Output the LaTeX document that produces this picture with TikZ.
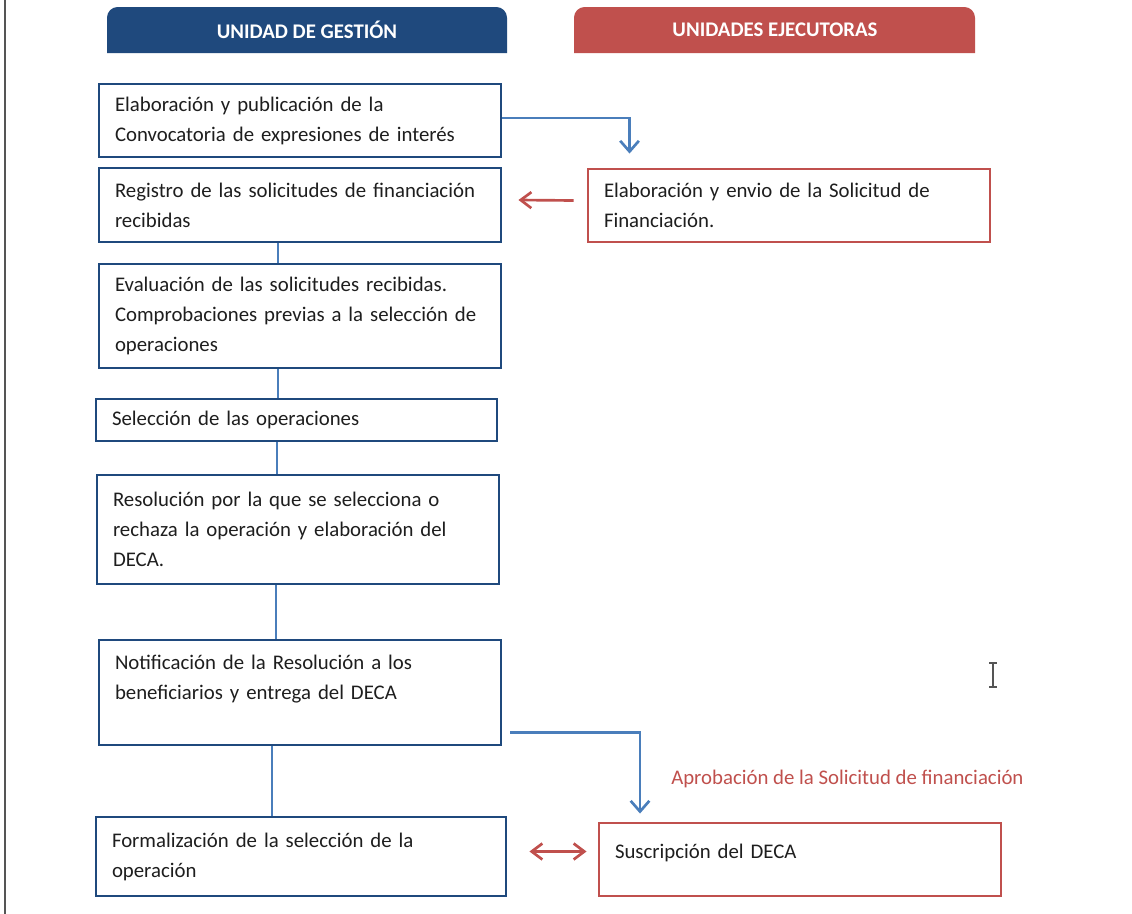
\documentclass[tikz,border=0pt]{standalone}
\usepackage{fontspec}
\setmainfont{Carlito}
\usetikzlibrary{arrows.meta}
\definecolor{hdblue}{HTML}{1F497D}
\definecolor{hdred}{HTML}{C0504D}
\definecolor{boxblue}{HTML}{1F497D}
\definecolor{linkblue}{HTML}{4A7EBB}
\definecolor{ink}{HTML}{1E1E1E}
\definecolor{edge}{HTML}{555555}
\begin{document}
\begin{tikzpicture}[x=0.75pt,y=-0.75pt,
  bodyfont/.style={font=\fontsize{15.6}{22.5}\selectfont},
  stepbox/.style={draw=boxblue, line width=2.2pt, bodyfont, text=ink,
    align=left, inner xsep=12pt, inner ysep=3pt, text width=277.5pt},
  execbox/.style={stepbox, draw=hdred},
  headtxt/.style={text=white, font=\fontsize{15.6}{18}\selectfont\bfseries},
  link/.style={draw=linkblue, line width=2pt},
  bluetip/.style={link, -{Straight Barb[length=8pt,width=14pt]}},
  redtip/.style={draw=hdred, line width=2pt, -{Straight Barb[length=8pt,width=12pt]}},
  redboth/.style={draw=hdred, line width=2pt, {Straight Barb[length=8pt,width=12pt]}-{Straight Barb[length=8pt,width=12pt]}}
]
\useasboundingbox (0,0) rectangle (1132,914);
\fill[white] (0,0) rectangle (1132,914);
% page edge on the left
\draw[edge, line width=1.5pt] (5,0) -- (5,914);

% column headers
\fill[hdblue] (107,53) [rounded corners=8] -- (107,7) -- (507,7) [sharp corners] -- (507,53) -- cycle;
\node[headtxt] (hgest) at (307,30) {UNIDAD DE GESTIÓN};
\fill[hdred] (574,53) [rounded corners=8] -- (574,7) -- (975,7) [sharp corners] -- (975,53) -- cycle;
\node[headtxt] (hejec) at (775,30) {UNIDADES EJECUTORAS};

% management unit steps
\node[stepbox, minimum height=54.75pt] (B1) at (300,120.5)
  {Elaboración y publicación de la\\Convocatoria de expresiones de interés};
\node[stepbox, minimum height=55.5pt] (B2) at (300,205)
  {Registro de las solicitudes de financiación\\recibidas};
\node[stepbox, minimum height=78pt] (B3) at (300,316)
  {Evaluación de las solicitudes recibidas.\\Comprobaciones previas a la selección de\\operaciones};
\node[stepbox, minimum height=31.5pt, text width=276.75pt] (B4) at (296.5,420)
  {Selección de las operaciones};
\node[stepbox, minimum height=81.75pt] (B5) at (298,529.5)
  {Resolución por la que se selecciona o\\rechaza la operación y elaboración del\\DECA.};
\node[stepbox, minimum height=78.75pt] (B6) at (300,692.5)
  {Notificación de la Resolución a los\\beneficiarios y entrega del DECA\\[-6pt]\strut};
\node[stepbox, minimum height=59.25pt, text width=283.5pt] (B7) at (301,856.5)
  {Formalización de la selección de la\\operación};

% executing unit steps
\node[execbox, minimum height=54.75pt] (R1) at (789,205.5)
  {Elaboración y envio de la Solicitud de\\Financiación.};
\node[execbox, minimum height=54.75pt] (R2) at (800,859.5)
  {Suscripción del DECA\\[-17pt]\strut};

% vertical links between steps
\draw[link] ([shift={(-22,0)}]B2.south) -- ([shift={(-22,0)}]B2.south |- B3.north);
\draw[link] ([shift={(-22,0)}]B3.south) -- ([shift={(-22,0)}]B3.south |- B4.north);
\draw[link] ([shift={(-19.5,0)}]B4.south) -- ([shift={(-19.5,0)}]B4.south |- B5.north);
\draw[link] ([shift={(-22,0)}]B5.south) -- ([shift={(-22,0)}]B5.south |- B6.north);
\draw[link] ([shift={(-28,0)}]B6.south) -- ([shift={(-28,0)}]B6.south |- B7.north);

% exchanges between the two units
\draw[bluetip] ([shift={(0,-2.5)}]B1.east) -| ([shift={(43,-14)}]R1.north west);
\draw[redtip] ([shift={(-13,-5)}]R1.west) -- ([shift={(16,-5)}]B2.east);
\draw[bluetip] ([shift={(8,-14)}]B6.south east) -| ([shift={(-160,-8)}]R2.north);
\draw[redboth] ([shift={(22,-5)}]B7.east) -- ([shift={(-11,-8)}]R2.west);

\node[anchor=west, bodyfont, text=hdred, inner sep=0pt] (aprob) at (671,779)
  {Aprobación de la Solicitud de financiación};

% text cursor
\draw[edge, line width=1pt] (993,663) -- (993,687)
  (989,663) -- (997,663) (989,687) -- (997,687);
\end{tikzpicture}
\end{document}
